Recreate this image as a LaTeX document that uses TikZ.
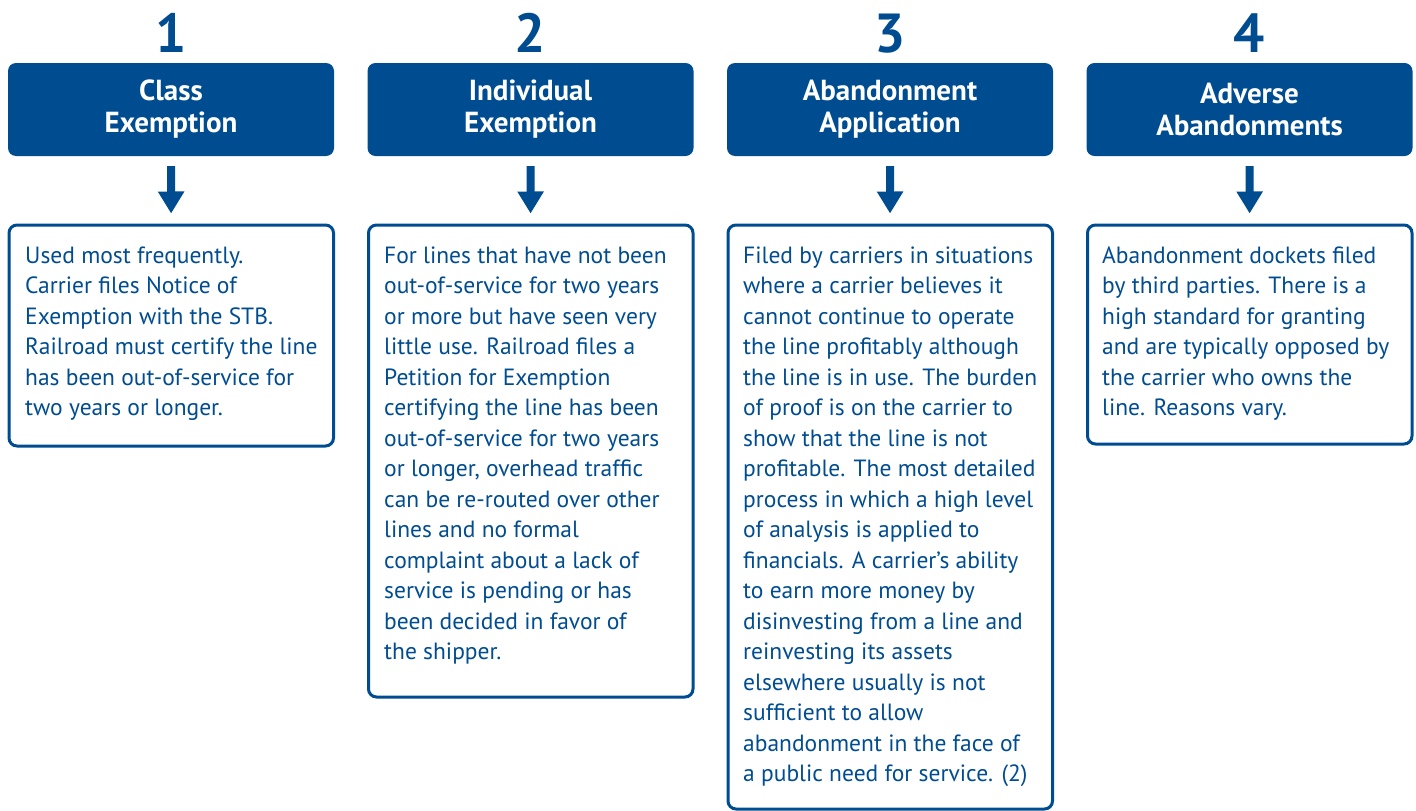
\documentclass[tikz,border=0pt]{standalone}
\usepackage{fontspec}
\setmainfont{PT Sans}
\usetikzlibrary{arrows.meta}
\definecolor{stb}{RGB}{0,76,145}
\begin{document}
\begin{tikzpicture}[x=1pt,y=-1pt,
 num/.style={text=stb,font=\bfseries\fontsize{55}{55}\selectfont,inner sep=0,anchor=base},
 head/.style={fill=stb,rounded corners=8pt,minimum width=326pt,minimum height=93pt,inner sep=0,text=white,align=center,font=\bfseries\fontsize{29}{32}\selectfont},
 desc/.style={draw=stb,line width=3pt,rounded corners=8pt,minimum width=324.5pt,inner sep=0,anchor=north},
 body/.style={text=stb,anchor=base west,inner sep=0,font=\fontsize{23.5}{30.5}\selectfont},
 conn/.style={draw=stb,line width=8pt,-{Triangle[width=25pt,length=22pt]},shorten <=10pt,shorten >=10pt}]
\useasboundingbox (0,0) rectangle (1416,811);
\newcommand{\bodytext}[1]{\parbox[t]{320pt}{\raggedright #1}}

% numbers
\node[num] (n1) at (171,52) {1};
\node[num] (n2) at (530.5,52) {2};
\node[num] (n3) at (890,52) {3};
\node[num] (n4) at (1249.5,52) {4};

% headers
\node[head] (h1) at (171,109.5) {Class\\Exemption};
\node[head] (h2) at (530.5,109.5) {Individual\\Exemption};
\node[head] (h3) at (890,109.5) {Abandonment\\Application};
\node[head] (h4) at (1249.5,109.5) {Adverse\\Abandonments};

% description boxes
\node[desc,minimum height=221pt] (b1) at (171.25,223.5) {};
\node[desc,minimum height=472pt] (b2) at (530.75,223.5) {};
\node[desc,minimum height=584pt] (b3) at (890.25,223.5) {};
\node[desc,minimum height=219pt] (b4) at (1249.75,223.5) {};

% connectors
\draw[conn] (h1) -- (b1);
\draw[conn] (h2) -- (b2);
\draw[conn] (h3) -- (b3);
\draw[conn] (h4) -- (b4);

% texts
\node[body] (t1) at (25,263) {\bodytext{Used most frequently.\\
Carrier files Notice of\\
Exemption with the STB.\\
Railroad must certify the line\\
has been out-of-service for\\
two years or longer.}};

\node[body] (t2) at (384,263) {\bodytext{For lines that have not been\\
out-of-service for two years\\
or more but have seen very\\
little use. Railroad files a\\
Petition for Exemption\\
certifying the line has been\\
out-of-service for two years\\
or longer, overhead traffic\\
can be re-routed over other\\
lines and no formal\\
complaint about a lack of\\
service is pending or has\\
been decided in favor of\\
the shipper.}};

\node[body] (t3) at (743,263) {\bodytext{Filed by carriers in situations\\
where a carrier believes it\\
cannot continue to operate\\
the line profitably although\\
the line is in use. The burden\\
of proof is on the carrier to\\
show that the line is not\\
profitable. The most detailed\\
process in which a high level\\
of analysis is applied to\\
financials. A carrier’s ability\\
to earn more money by\\
disinvesting from a line and\\
reinvesting its assets\\
elsewhere usually is not\\
sufficient to allow\\
abandonment in the face of\\
a public need for service. (2)}};

\node[body] (t4) at (1102,263) {\bodytext{Abandonment dockets filed\\
by third parties. There is a\\
high standard for granting\\
and are typically opposed by\\
the carrier who owns the\\
line. Reasons vary.}};
\end{tikzpicture}
\end{document}
